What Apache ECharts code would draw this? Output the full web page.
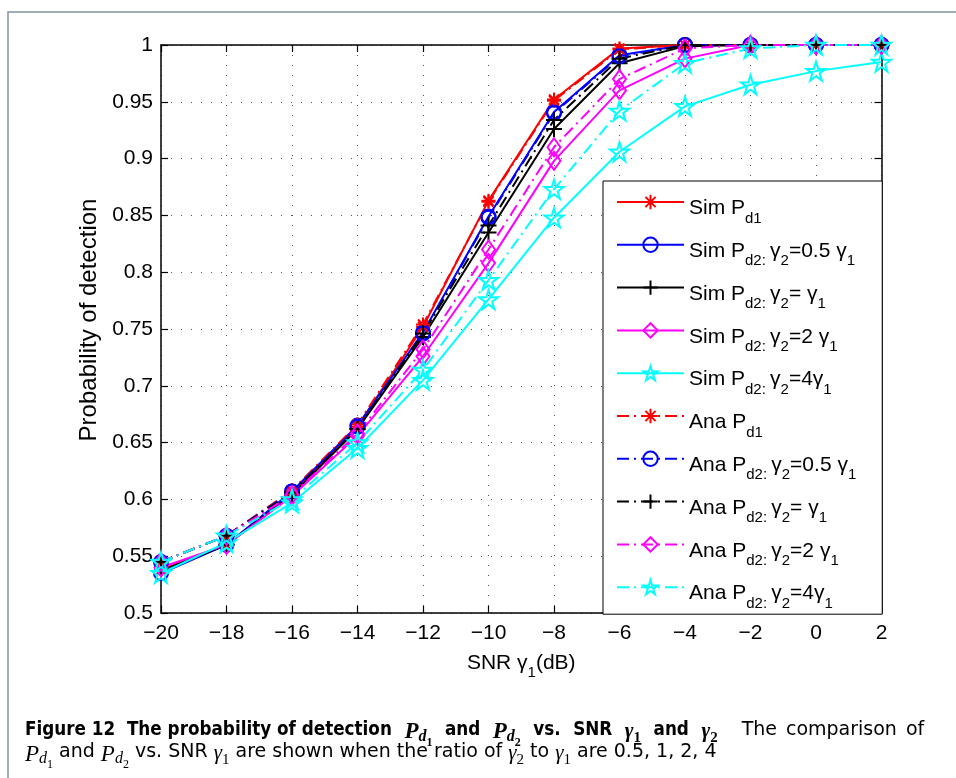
<!DOCTYPE html>
<html><head><meta charset="utf-8">
<script src="https://cdn.jsdelivr.net/npm/echarts@6/dist/echarts.min.js"></script>
<style>html,body{margin:0;padding:0;background:#fff}#c{width:956px;height:778px}</style>
</head><body><div id="c"></div>
<script>
// ---- data ----
const snr = [-20, -18, -16, -14, -12, -10, -8, -6, -4, -2, 0, 2];
const simPd1     = [0.538, 0.560, 0.606, 0.664, 0.752, 0.863, 0.952, 0.997, 1.000, 1.000, 1.000, 1.000];
const simPd2Half = [0.535, 0.560, 0.607, 0.665, 0.747, 0.849, 0.941, 0.991, 1.000, 1.000, 1.000, 1.000];
const simPd2One  = [0.537, 0.560, 0.604, 0.662, 0.743, 0.835, 0.926, 0.984, 0.999, 1.000, 1.000, 1.000];
const simPd2Two  = [0.540, 0.560, 0.603, 0.656, 0.726, 0.808, 0.898, 0.960, 0.988, 1.000, 1.000, 1.000];
const simPd2Four = [0.535, 0.562, 0.597, 0.645, 0.705, 0.776, 0.848, 0.906, 0.946, 0.965, 0.977, 0.985];
const anaPd1     = [0.545, 0.568, 0.608, 0.666, 0.754, 0.862, 0.951, 0.996, 1.000, 1.000, 1.000, 1.000];
const anaPd2Half = [0.545, 0.568, 0.607, 0.664, 0.746, 0.848, 0.940, 0.990, 1.000, 1.000, 1.000, 1.000];
const anaPd2One  = [0.545, 0.568, 0.606, 0.662, 0.746, 0.841, 0.934, 0.988, 1.000, 1.000, 1.000, 1.000];
const anaPd2Two  = [0.545, 0.568, 0.604, 0.658, 0.732, 0.820, 0.910, 0.970, 0.997, 1.000, 1.000, 1.000];
const anaPd2Four = [0.545, 0.568, 0.600, 0.650, 0.714, 0.793, 0.873, 0.942, 0.984, 0.997, 1.000, 1.000];

const xMin = -20, xMax = 2, xStep = 2;
const yMin = 0.5, yMax = 1, yStep = 0.05;

const seriesNames = [
  'Sim Pd1', 'Sim Pd2: g2=0.5 g1', 'Sim Pd2: g2= g1', 'Sim Pd2: g2=2 g1', 'Sim Pd2: g2=4g1',
  'Ana Pd1', 'Ana Pd2: g2=0.5 g1', 'Ana Pd2: g2= g1', 'Ana Pd2: g2=2 g1', 'Ana Pd2: g2=4g1'
];
const seriesValues = [simPd1, simPd2Half, simPd2One, simPd2Two, simPd2Four,
                      anaPd1, anaPd2Half, anaPd2One, anaPd2Two, anaPd2Four];
const legendText = [
  '{n|Sim P}{s|d1}',
  '{n|Sim P}{s|d2:}{n|\u2009γ}{s|2}{n|=0.5 γ}{s|1}',
  '{n|Sim P}{s|d2:}{n|\u2009γ}{s|2}{n|= γ}{s|1}',
  '{n|Sim P}{s|d2:}{n|\u2009γ}{s|2}{n|=2 γ}{s|1}',
  '{n|Sim P}{s|d2:}{n|\u2009γ}{s|2}{n|=4γ}{s|1}',
  '{n|Ana P}{s|d1}',
  '{n|Ana P}{s|d2:}{n|\u2009γ}{s|2}{n|=0.5 γ}{s|1}',
  '{n|Ana P}{s|d2:}{n|\u2009γ}{s|2}{n|= γ}{s|1}',
  '{n|Ana P}{s|d2:}{n|\u2009γ}{s|2}{n|=2 γ}{s|1}',
  '{n|Ana P}{s|d2:}{n|\u2009γ}{s|2}{n|=4γ}{s|1}'
];

// ---- styles ----
const ASTER = 'path://M10,0L10,20M0,10L20,10M2.9,2.9L17.1,17.1M2.9,17.1L17.1,2.9';
const PLUS = 'path://M10,0L10,20M0,10L20,10';
const STAR = 'path://M0,-10L2.245,-3.09L9.511,-3.09L3.633,1.18L5.878,8.09L0,3.82L-5.878,8.09L-3.633,1.18L-9.511,-3.09L-2.245,-3.09Z';
const styleColors = ['#ff0000', '#0000ff', '#000000', '#ff00ff', '#00ffff'];
const styleSymbols = [ASTER, 'circle', PLUS, 'diamond', STAR];
const styleSizes = [14, 14, 16, [13, 18], 19];
const DASHDOT = [12, 5, 2, 5];

const series = seriesValues.map((vals, i) => {
  const k = i % 5;
  const dashed = i >= 5;
  return {
    type: 'line',
    name: seriesNames[i],
    data: snr.map((x, j) => [x, vals[j]]),
    symbol: styleSymbols[k],
    symbolSize: styleSizes[k],
    showAllSymbol: true,
    clip: false,
    lineStyle: { color: styleColors[k], width: 2, type: dashed ? DASHDOT : 'solid' },
    itemStyle: { color: 'rgba(0,0,0,0)', borderColor: styleColors[k], borderWidth: 2 },
    emphasis: { disabled: true },
    animation: false
  };
});

const FONT = 'Liberation Sans';
const axisLineStyle = { onZero: false, lineStyle: { color: '#000', width: 1.5 } };
const tickStyle = { inside: true, length: 7, lineStyle: { color: '#000', width: 1.2 } };
const gridLine = { show: true, lineStyle: { color: '#555', width: 1, type: [1, 9] } };

const SANS = "'DejaVu Sans Condensed', 'DejaVu Sans'";
const SERIF = 'Liberation Serif';
function tok(family, size, lh, pad, weight, style) {
  return { fontFamily: family, fontSize: size, lineHeight: lh, padding: [pad, 0, 0, 0],
           fontWeight: weight, fontStyle: style, verticalAlign: 'top', color: '#000' };
}
const capRich = {
  b:   tok(SANS, 18.7, 22, 0, 'bold', 'normal'),
  r:   tok('DejaVu Sans', 19, 22, 0, 'normal', 'normal'),
  P:   tok(SERIF, 23, 18, 0, 'normal', 'italic'),
  Pb:  tok(SERIF, 23, 18, 0, 'bold', 'italic'),
  d:   tok(SERIF, 16, 14, 8, 'normal', 'italic'),
  db:  tok(SERIF, 16, 14, 8, 'bold', 'italic'),
  dd:  tok(SERIF, 12, 6, 16, 'normal', 'normal'),
  ddb: tok(SERIF, 12, 6, 16, 'bold', 'normal'),
  g:   tok(SERIF, 21, 20, 0, 'normal', 'italic'),
  gb:  tok(SERIF, 21, 20, 0, 'bold', 'italic'),
  gs:  tok(SERIF, 15, 12, 10, 'normal', 'normal'),
  gsb: tok(SERIF, 15, 12, 10, 'bold', 'normal'),
  w:   { width: 12.5, lineHeight: 22 },
  w2:  { width: 9, lineHeight: 22 },
  q:   { width: 24, lineHeight: 22 }
};
const capLine1 = '{b|Figure 12  The probability of detection}{w| }{Pb|P}{db|d}{ddb|1}{w| }{b|and}{w| }{Pb|P}{db|d}{ddb|2}{w| }{b|vs.}{w| }{b|SNR}{w| }{gb|γ}{gsb|1}{w| }{b|and}{w| }{gb|γ}{gsb|2}{q| }{r|The}{w2| }{r|comparison}{w2| }{r|of}';
const capLine2 = '{P|P}{d|d}{dd|1}{r| and }{P|P}{d|d}{dd|2}{r| vs. SNR }{g|γ}{gs|1}{r| are shown when the ratio of }{g|γ}{gs|2}{r| to }{g|γ}{gs|1}{r| are 0.5, 1, 2, 4}';

const chart = echarts.init(document.getElementById('c'), null, { renderer: 'canvas' });
chart.setOption({
  backgroundColor: '#fff',
  animation: false,
  grid: { left: 161, right: 74.5, top: 45, bottom: 165 },
  title: {
    left: 25, top: 721, padding: 0,
    text: capLine1 + '\n' + capLine2,
    textStyle: { fontWeight: 'normal', rich: capRich }
  },
  graphic: [{
    type: 'rect', silent: true, z: -10,
    shape: { x: 8, y: 12, width: 1000, height: 800 },
    style: { fill: 'none', stroke: '#8093ab', lineWidth: 1.5 }
  }],
  xAxis: [{
    type: 'value', min: xMin, max: xMax, interval: xStep, position: 'bottom',
    axisLine: axisLineStyle, axisTick: tickStyle, splitLine: gridLine,
    axisLabel: { color: '#000', fontSize: 21, fontFamily: FONT, margin: 10,
      formatter: v => v < 0 ? '\u2212' + (-v) : String(v) },
    name: '{n|SNR γ}{s|1}{n|(dB)}', nameLocation: 'middle', nameGap: 40,
    nameTextStyle: { rich: {
      n: { fontFamily: FONT, fontSize: 21, color: '#000', lineHeight: 22, padding: [0,0,0,0], verticalAlign: 'top' },
      s: { fontFamily: FONT, fontSize: 15, color: '#000', lineHeight: 15, padding: [12,0,0,0], verticalAlign: 'top' }
    } }
  }, {
    type: 'value', min: xMin, max: xMax, interval: xStep, position: 'top',
    axisLine: axisLineStyle, axisTick: tickStyle, splitLine: { show: false }, axisLabel: { show: false }
  }],
  yAxis: [{
    type: 'value', min: yMin, max: yMax, interval: yStep, position: 'left',
    axisLine: axisLineStyle, axisTick: tickStyle, splitLine: gridLine,
    axisLabel: { color: '#000', fontSize: 21, fontFamily: FONT, margin: 8,
      formatter: v => String(parseFloat(v.toFixed(2))) },
    name: 'Probability of detection', nameLocation: 'middle', nameGap: 60,
    nameTextStyle: { fontFamily: FONT, fontSize: 24, color: '#000', padding: [0, 0, 0, 18] }
  }, {
    type: 'value', min: yMin, max: yMax, interval: yStep, position: 'right',
    axisLine: axisLineStyle, axisTick: tickStyle, splitLine: { show: false }, axisLabel: { show: false }
  }],
  legend: {
    orient: 'vertical', left: 603, top: 181,
    itemWidth: 67, itemHeight: 18, itemGap: 7.8,
    padding: [10, 26, 3, 13],
    backgroundColor: '#fff', borderColor: '#000', borderWidth: 1, borderRadius: 0,
    selectedMode: false,
    data: seriesNames,
    formatter: name => legendText[seriesNames.indexOf(name)],
    textStyle: { color: '#000', rich: {
      n: { fontFamily: FONT, fontSize: 21, color: '#000', lineHeight: 22, padding: [7,0,0,0], verticalAlign: 'top' },
      s: { fontFamily: FONT, fontSize: 15, color: '#000', lineHeight: 16, padding: [20,0,0,0], verticalAlign: 'top' }
    } }
  },
  series: series
});
</script></body></html>
